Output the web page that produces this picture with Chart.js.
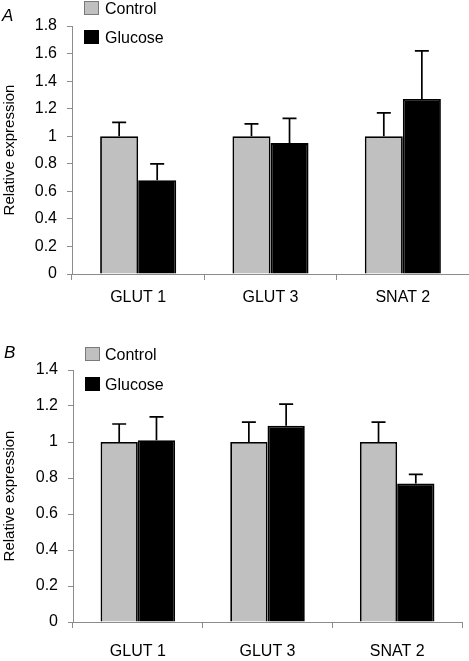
<!DOCTYPE html>
<html>
<head>
<meta charset="utf-8">
<script src="https://cdn.jsdelivr.net/npm/chart.js@4.4.1/dist/chart.umd.min.js"></script>
<style>
  html, body { margin: 0; padding: 0; background: #ffffff; }
  #wrap { position: relative; width: 469px; height: 661px; overflow: hidden; }
  canvas { position: absolute; left: 0; }
</style>
</head>
<body>
<div id="wrap">
  <canvas id="chartA" width="469" height="320" style="top:0px"></canvas>
  <canvas id="chartB" width="469" height="341" style="top:320px"></canvas>
</div>
<script>
// ---- data ----
const categories = ['GLUT 1', 'GLUT 3', 'SNAT 2'];
const seriesNames = ['Control', 'Glucose'];

// Panel A
const controlA = [1.00, 1.00, 1.00];
const controlA_se = [0.10, 0.09, 0.17];
const glucoseA = [0.68, 0.95, 1.27];
const glucoseA_se = [0.12, 0.18, 0.35];
const yTicksA = { min: 0, max: 1.8, step: 0.2 };

// Panel B
const controlB = [1.00, 1.00, 1.00];
const controlB_se = [0.10, 0.11, 0.11];
const glucoseB = [1.01, 1.09, 0.77];
const glucoseB_se = [0.13, 0.12, 0.05];
const yTicksB = { min: 0, max: 1.4, step: 0.2 };

const FONT = "'Liberation Sans', Arial, Helvetica, sans-serif";
const AXIS_GRAY = '#8c8c8c';
const CONTROL_FILL = '#c0c0c0';
const GLUCOSE_FILL = '#000000';

// error bar plugin: draws upward error bars from the dataset's "se" array
const errorBarPlugin = {
  id: 'errorBars',
  afterDatasetsDraw(chart) {
    const ctx = chart.ctx;
    const y = chart.scales.y;
    chart.data.datasets.forEach((ds, di) => {
      const meta = chart.getDatasetMeta(di);
      meta.data.forEach((bar, i) => {
        const top = y.getPixelForValue(ds.data[i] + ds.se[i]);
        const x = bar.x;
        ctx.save();
        ctx.strokeStyle = '#000';
        ctx.lineWidth = 1.7;
        ctx.beginPath();
        ctx.moveTo(x, bar.y);
        ctx.lineTo(x, top);
        ctx.moveTo(x - 7, top);
        ctx.lineTo(x + 7, top);
        ctx.stroke();
        ctx.restore();
      });
    });
  }
};

// custom legend + panel letter
const panelDecor = {
  id: 'panelDecor',
  afterDraw(chart, args, opts) {
    const ctx = chart.ctx;
    ctx.save();
    // panel letter
    ctx.fillStyle = '#000';
    ctx.font = 'italic 17px ' + FONT;
    ctx.textBaseline = 'middle';
    ctx.textAlign = 'left';
    ctx.fillText(opts.letter, opts.letterX, opts.letterY);
    // legend
    ctx.font = '16px ' + FONT;
    chart.data.datasets.forEach((ds, i) => {
      const bx = opts.boxX, by = opts.boxY[i];
      ctx.fillStyle = ds.backgroundColor;
      ctx.fillRect(bx, by, 15, 14);
      ctx.strokeStyle = i === 0 ? '#7a7a7a' : '#000';
      ctx.lineWidth = 1;
      ctx.strokeRect(bx + 0.5, by + 0.5, 14, 13);
      ctx.fillStyle = '#000';
      ctx.fillText(ds.label, opts.textX, by + 9);
    });
    ctx.restore();
  }
};

function makeChart(id, ctrl, ctrlSe, gluc, glucSe, yt, cfg) {
  return new Chart(document.getElementById(id), {
    type: 'bar',
    data: {
      labels: categories,
      datasets: [
        { label: seriesNames[0], data: ctrl, se: ctrlSe, backgroundColor: CONTROL_FILL,
          borderColor: '#000', borderWidth: 1.8, categoryPercentage: 0.575, barPercentage: 1.0 },
        { label: seriesNames[1], data: gluc, se: glucSe, backgroundColor: GLUCOSE_FILL,
          borderColor: '#000', borderWidth: 1.8, categoryPercentage: 0.575, barPercentage: 1.0 }
      ]
    },
    options: {
      responsive: false,
      animation: false,
      devicePixelRatio: 1,
      layout: { padding: { top: cfg.top, left: 0, right: cfg.right, bottom: 0 } },
      plugins: {
        legend: { display: false },
        tooltip: { enabled: false },
        panelDecor: cfg.decor
      },
      scales: {
        x: {
          afterFit(scale) { scale.height = cfg.xHeight; },
          grid: { drawOnChartArea: false, drawTicks: true, tickLength: 6, color: AXIS_GRAY, offset: true },
          border: { display: true, color: AXIS_GRAY, width: 1 },
          ticks: { color: '#000', font: { family: FONT, size: 16 }, padding: cfg.xPad, maxRotation: 0 }
        },
        y: {
          min: yt.min, max: yt.max,
          afterFit(scale) { scale.width = cfg.yWidth; },
          grid: { drawOnChartArea: false, drawTicks: true, tickLength: 5, color: AXIS_GRAY },
          border: { display: true, color: AXIS_GRAY, width: 1 },
          ticks: {
            stepSize: yt.step, color: '#000', font: { family: FONT, size: 16 }, padding: 10,
            callback: v => String(Math.round(v * 10) / 10)
          },
          title: { display: true, text: 'Relative expression', color: '#000',
                   font: { family: FONT, size: 15 }, padding: 1 }
        }
      }
    },
    plugins: [errorBarPlugin, panelDecor]
  });
}

makeChart('chartA', controlA, controlA_se, glucoseA, glucoseA_se, yTicksA, {
  top: 26, right: 0, xHeight: 46, xPad: 8, yWidth: 72,
  decor: { letter: 'A', letterX: 2, letterY: 16, boxX: 84, boxY: [1, 30], textX: 105 }
});

makeChart('chartB', controlB, controlB_se, glucoseB, glucoseB_se, yTicksB, {
  top: 50, right: 7, xHeight: 39, xPad: 14, yWidth: 73,
  decor: { letter: 'B', letterX: 4, letterY: 33, boxX: 85, boxY: [27, 57], textX: 105 }
});
</script>
</body>
</html>
